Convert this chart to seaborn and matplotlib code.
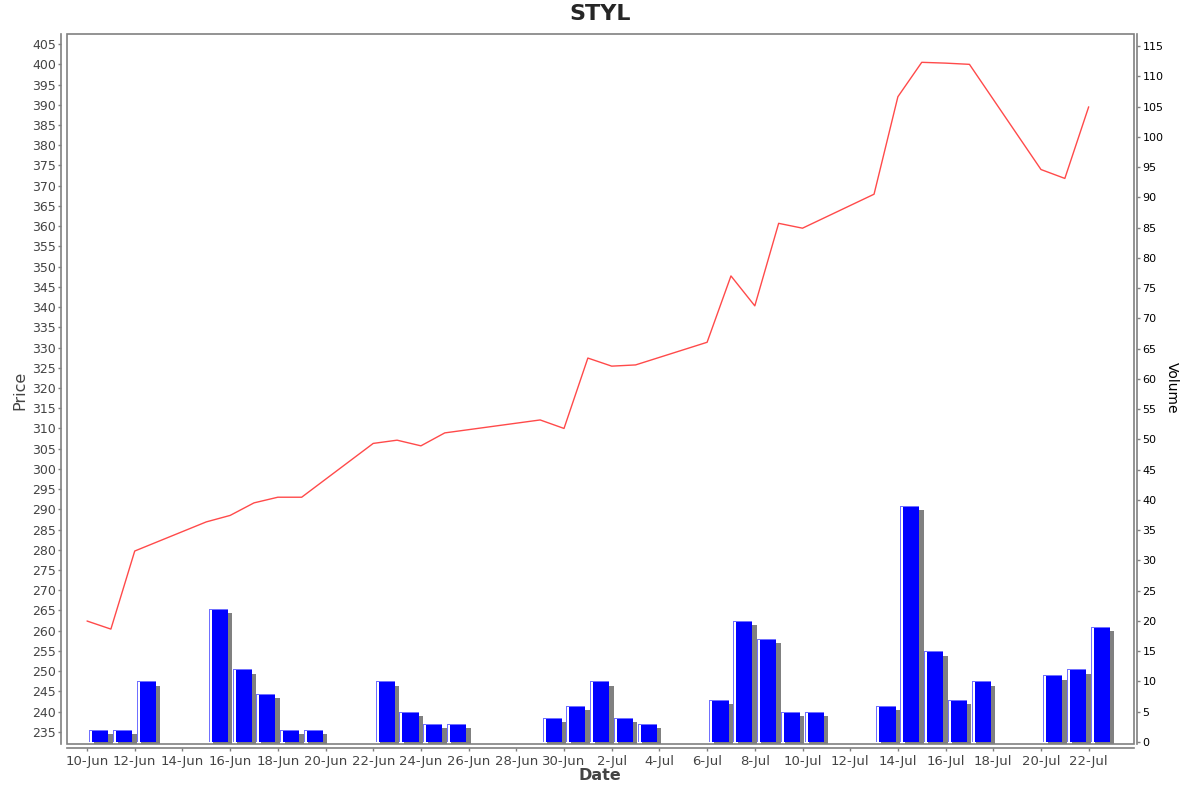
import matplotlib
matplotlib.use("Agg")
import matplotlib.pyplot as plt
import matplotlib.dates as mdates
import matplotlib.transforms as mtransforms
from matplotlib.patches import Rectangle
import seaborn as sns
import pandas as pd
import numpy as np

# ---- data ----
dates = ["2020-06-10", "2020-06-11", "2020-06-12", "2020-06-15", "2020-06-16",
         "2020-06-17", "2020-06-18", "2020-06-19", "2020-06-22", "2020-06-23",
         "2020-06-24", "2020-06-25", "2020-06-29", "2020-06-30", "2020-07-01",
         "2020-07-02", "2020-07-03", "2020-07-06", "2020-07-07", "2020-07-08",
         "2020-07-09", "2020-07-10", "2020-07-13", "2020-07-14", "2020-07-15",
         "2020-07-16", "2020-07-17", "2020-07-20", "2020-07-21", "2020-07-22"]
price = [262.4, 260.4, 279.7, 286.9, 288.5, 291.6, 293.0, 293.0, 306.3, 307.1,
         305.7, 308.9, 312.1, 310.0, 327.4, 325.4, 325.7, 331.3, 347.7, 340.3,
         360.7, 359.5, 367.9, 392.0, 400.5, 400.3, 400.0, 374.0, 371.8, 389.5]
volume = [2, 2, 10, 22, 12, 8, 2, 2, 10, 5,
          3, 3, 4, 6, 10, 4, 3, 7, 20, 17,
          5, 5, 6, 39, 15, 7, 10, 11, 12, 19]
price_ticks = list(range(235, 406, 5))
volume_ticks = list(range(0, 116, 5))
title = "STYL"

df = pd.DataFrame({"Date": pd.to_datetime(dates), "Price": price, "Volume": volume})

sns.set_theme(style="white")
plt.rcParams["font.family"] = ["DejaVu Sans"]

W, H = 1200, 792
fig = plt.figure(figsize=(W / 100, H / 100), dpi=100)
L, R, T, B = 67, 1134, 34, 744
ax = fig.add_axes([L / W, 1 - B / H, (R - L) / W, (B - T) / H])
ax2 = ax.twinx()

gray = "#808080"
txt = "#444444"

# price line
sns.lineplot(data=df, x="Date", y="Price", ax=ax, color="#ff4a4a", linewidth=1.0, zorder=3)

# volume bars
xnum = mdates.date2num(df["Date"])
day_px = (R - L) / (43.9 + 0.84)
vol_px = (B - T) / (117.0 + 0.33)
bw = 0.8
x0 = xnum + 0.1
vol = df["Volume"].to_numpy(dtype=float)
shadow_tr = ax2.transData + mtransforms.ScaledTranslation(4.3 / 100, -4.3 / 100, fig.dpi_scale_trans)
ax2.bar(x0, vol, width=bw, align="edge", color=gray, linewidth=0,
        transform=shadow_tr, zorder=1)
ax2.bar(x0, vol, width=bw, align="edge", color="#0000ff", linewidth=0, zorder=2)
# highlight: light-blue left edge, white gap, light-blue top edge
ax2.bar(x0, vol, width=1.0 / day_px, align="edge", color="#7070ff", linewidth=0, zorder=3)
ax2.bar(x0 + 1.0 / day_px, vol - 1.0 / vol_px, width=2.0 / day_px, align="edge",
        color="white", linewidth=0, zorder=3)
ax2.bar(x0, 1.0 / vol_px, bottom=vol - 1.0 / vol_px, width=bw, align="edge",
        color="#7070ff", linewidth=0, zorder=4)

# axes limits / ticks
start = mdates.date2num(pd.Timestamp("2020-06-10"))
ax.set_xlim(start - 0.84, start + 43.9)
ax.set_ylim(232.0, 407.5)
ax2.set_ylim(-0.33, 117.0)
ax.set_yticks(price_ticks)
ax2.set_yticks(volume_ticks)
xt = pd.date_range("2020-06-10", "2020-07-22", freq="2D")
ax.set_xticks(mdates.date2num(xt))
ax.xaxis.set_major_formatter(mdates.DateFormatter("%-d-%b"))

ax.tick_params(axis="y", which="both", left=True, length=2, width=1, color=gray,
               labelsize=9, labelcolor=txt, pad=2)
ax.tick_params(axis="x", which="both", bottom=True, length=2, width=1, color=gray,
               labelsize=9.5, labelcolor=txt, pad=3)
ax2.tick_params(axis="y", which="both", right=True, length=2, width=1, color=gray,
                labelsize=8, labelcolor="black", pad=2)

# spines: outward axis lines + plot frame
for s in ax.spines.values():
    s.set_visible(False)
for s in ax2.spines.values():
    s.set_visible(False)
ax.spines["left"].set_visible(True)
ax.spines["left"].set_position(("outward", 4))
ax.spines["bottom"].set_visible(True)
ax.spines["bottom"].set_position(("outward", 3))
ax2.spines["right"].set_visible(True)
ax2.spines["right"].set_position(("outward", 2))
for s in (ax.spines["left"], ax.spines["bottom"], ax2.spines["right"]):
    s.set_color(gray)
    s.set_linewidth(1.2)
ax.add_patch(Rectangle((0, 0), 1, 1, transform=ax.transAxes, fill=False,
                       edgecolor=gray, linewidth=1.2, clip_on=False, zorder=10))
ax.grid(False)
ax2.grid(False)

# labels
ax.set_xlabel("Date", fontsize=11.5, fontweight="bold", color=txt)
ax.xaxis.set_label_coords((600 - L) / (R - L), -(776 - B) / (B - T))
ax.xaxis.label.set_va("center")
ax.set_ylabel("Price", fontsize=11.5, color=txt)
ax.yaxis.set_label_coords(-(L - 20) / (R - L), (B - 390) / (B - T))
ax.yaxis.label.set_va("center")
ax2.set_ylabel("Volume", fontsize=10, color="black", rotation=-90)
ax2.yaxis.set_label_coords((1172 - L) / (R - L), (B - 388) / (B - T))
ax2.yaxis.label.set_va("center")

fig.text(0.5, 1 - 14 / H, title, ha="center", va="center", fontsize=16, fontweight="bold")

fig.savefig("out.png", dpi=100)
